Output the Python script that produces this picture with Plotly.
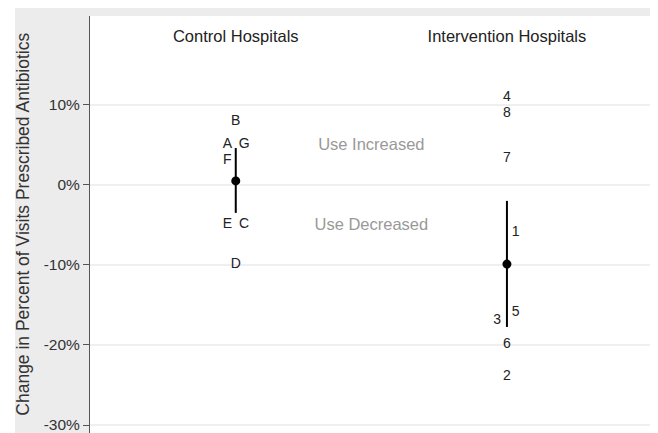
import plotly.graph_objects as go

# ---- data ----
groups = ["Control Hospitals", "Intervention Hospitals"]
group_x = [1, 3]

control_labels = ["A", "B", "C", "D", "E", "F", "G"]
control_values = [5.0, 7.9, -5.0, -10.0, -5.0, 3.0, 5.0]

interv_labels = ["1", "2", "3", "4", "5", "6", "7", "8"]
interv_values = [-6.0, -23.9, -17.0, 10.9, -16.0, -20.0, 3.25, 8.9]

center_values = [0.5, -9.9]
interval_low = [-3.5, -17.75]
interval_high = [4.6, -2.0]

region_labels = ["Use Increased", "Use Decreased"]
region_values = [4.9, -5.1]

tick_vals = [10, 0, -10, -20, -30]
tick_text = ["10%", "0%", "-10%", "-20%", "-30%"]

# ---- styles (label nudges, in x-axis units) ----
nudge = 0.062
control_dx = {"A": -1, "E": -1, "F": -1, "C": 1, "G": 1}
interv_dx = {"1": 1.05, "5": 1.05, "3": -1.15}

FONT = "Liberation Sans, Arial, sans-serif"

fig = go.Figure()

label_font = dict(family=FONT, size=14, color="#222222")

fig.add_trace(go.Scatter(
    x=[group_x[0] + control_dx.get(l, 0) * nudge for l in control_labels], y=control_values,
    mode="text", text=control_labels, textposition="middle center", textfont=label_font,
    hoverinfo="skip", showlegend=False))
fig.add_trace(go.Scatter(
    x=[group_x[1] + interv_dx.get(l, 0) * nudge for l in interv_labels], y=interv_values,
    mode="text", text=interv_labels, textposition="middle center", textfont=label_font,
    hoverinfo="skip", showlegend=False))

# zero reference line
fig.add_shape(type="line", xref="paper", yref="y", x0=0, x1=1, y0=0, y1=0,
              line=dict(color="#aaaaaa", width=2, dash="10px,6px"), layer="below")

# intervals + center dots
fig.add_trace(go.Scatter(
    x=group_x, y=center_values, mode="markers",
    marker=dict(color="black", size=9),
    error_y=dict(type="data", symmetric=False,
                 array=[h - c for h, c in zip(interval_high, center_values)],
                 arrayminus=[c - l for c, l in zip(center_values, interval_low)],
                 color="black", thickness=2, width=0),
    hoverinfo="skip", showlegend=False))

# region labels
fig.add_trace(go.Scatter(
    x=[2, 2], y=region_values, mode="text", text=region_labels,
    textfont=dict(family=FONT, size=16.5, color="#999999"),
    hoverinfo="skip", showlegend=False))

# group headers
fig.add_trace(go.Scatter(
    x=group_x, y=[18.4, 18.4], mode="text", text=groups,
    textfont=dict(family=FONT, size=16.5, color="#222222"),
    hoverinfo="skip", showlegend=False))

# white strip on the left outside the grey panel
fig.add_shape(type="rect", xref="paper", yref="paper", x0=-0.2, x1=-0.1327, y0=-0.05, y1=1.06,
              fillcolor="white", line=dict(width=0), layer="below")

fig.add_annotation(text="Change in Percent of Visits Prescribed Antibiotics",
                   xref="paper", yref="paper", x=-0.120, y=0.5, textangle=-90,
                   showarrow=False, xanchor="center", yanchor="middle",
                   font=dict(family=FONT, size=17.5, color="#333333"))

fig.update_layout(
    width=650, height=425,
    margin=dict(l=82, r=3, t=8, b=0, autoexpand=False),
    paper_bgcolor="#ececec", plot_bgcolor="white",
    showlegend=False,
    xaxis=dict(range=[-0.075, 4.092], visible=False, fixedrange=True, automargin=False),
    yaxis=dict(range=[-31, 21.1], tickvals=tick_vals, ticktext=tick_text, automargin=False,
               ticklabeloverflow="allow",
               showgrid=True, gridcolor="#efefef", gridwidth=2, zeroline=False,
               showline=True, linecolor="#555555", linewidth=1,
               ticks="outside", ticklen=6, tickcolor="#555555",
               tickfont=dict(family=FONT, size=15.5, color="#333333")),
)

fig.write_html("out.html")
